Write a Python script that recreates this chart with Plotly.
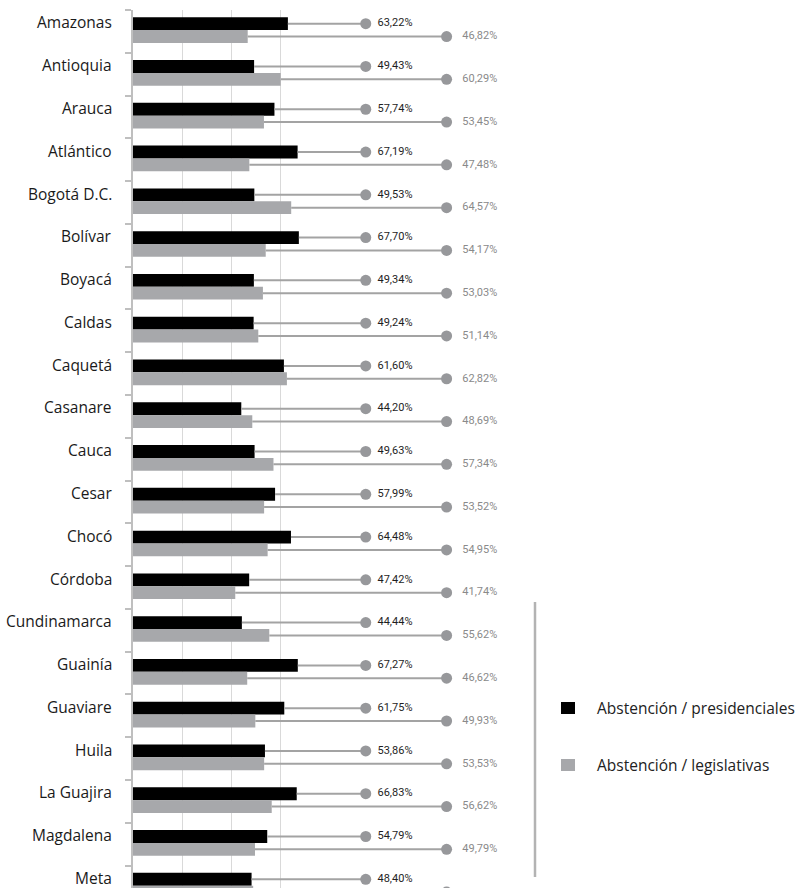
import plotly.graph_objects as go

departamentos = ["Amazonas", "Antioquia", "Arauca", "Atlántico", "Bogotá D.C.", "Bolívar",
                 "Boyacá", "Caldas", "Caquetá", "Casanare", "Cauca", "Cesar", "Chocó",
                 "Córdoba", "Cundinamarca", "Guainía", "Guaviare", "Huila", "La Guajira",
                 "Magdalena", "Meta"]
abst_presidenciales = [63.22, 49.43, 57.74, 67.19, 49.53, 67.70, 49.34, 49.24, 61.60, 44.20,
                       49.63, 57.99, 64.48, 47.42, 44.44, 67.27, 61.75, 53.86, 66.83, 54.79, 48.40]
abst_legislativas = [46.82, 60.29, 53.45, 47.48, 64.57, 54.17, 53.03, 51.14, 62.82, 48.69,
                     57.34, 53.52, 54.95, 41.74, 55.62, 46.62, 49.93, 53.53, 56.62, 49.79, 49.05]
grid_ticks = [20, 40, 60]

# layout constants
W, H = 803, 888
ML, MT = 133, 10
PX_PER_UNIT = 2.45
DOT_X_PRES = 95
DOT_X_LEG = 128
TEXT_GAP_PRES = 4.8   # data units between dot centre and label anchor
TEXT_GAP_LEG = 6.4
OFF_PRES = -0.18
OFF_LEG = 0.12
BAR_W = 0.30
plot_w = W - ML
plot_h = H - MT
unit_px = 42.78
y_bottom = -0.5 + plot_h / unit_px

BLACK = "#000000"
GRAY = "#a7a8ab"
DOT = "#97989b"
LINE = "#a3a3a3"

idx = list(range(len(departamentos)))
fmt = lambda v: f"{v:.2f}".replace(".", ",") + "%"

fig = go.Figure()
fig.add_trace(go.Bar(x=abst_presidenciales, y=idx, orientation="h", width=BAR_W,
                     offset=OFF_PRES - BAR_W / 2, marker=dict(color=BLACK, line_width=0),
                     name="Abstención / presidenciales"))
fig.add_trace(go.Bar(x=abst_legislativas, y=idx, orientation="h", width=BAR_W,
                     offset=OFF_LEG - BAR_W / 2, marker=dict(color=GRAY, line_width=0),
                     name="Abstención / legislativas"))


def lollipop(values, dot_x, gap, off, txtcolor):
    lx, ly = [], []
    for i, v in zip(idx, values):
        lx += [v, dot_x, None]
        ly += [i + off, i + off, None]
    fig.add_trace(go.Scatter(x=lx, y=ly, mode="lines", line=dict(color=LINE, width=2),
                             hoverinfo="skip"))
    ys = [i + off for i in idx]
    fig.add_trace(go.Scatter(x=[dot_x] * len(values), y=ys, mode="markers",
                             marker=dict(size=11, color=DOT)))
    # only labels whose row lies inside the visible plot area
    texts = [fmt(v) if (y + 0.1) < y_bottom else "" for v, y in zip(values, ys)]
    fig.add_trace(go.Scatter(x=[dot_x + gap] * len(values), y=ys, mode="text",
                             text=texts, textposition="middle right",
                             textfont=dict(family="Liberation Sans Narrow, Arial Narrow, Roboto",
                                           size=11, color=txtcolor)))


lollipop(abst_presidenciales, DOT_X_PRES, TEXT_GAP_PRES, OFF_PRES, "#1e1e1e")
lollipop(abst_legislativas, DOT_X_LEG, TEXT_GAP_LEG, OFF_LEG, "#8a8a8a")

for i, name in zip(idx, departamentos):
    fig.add_annotation(x=0, y=i - 0.21, xref="x", yref="y", text=name, showarrow=False,
                       xanchor="right", yanchor="middle", xshift=-19,
                       font=dict(family="Open Sans", size=15.5, color="#1a1a1a"))


def px_to_paper(px, py):
    return (px - ML) / plot_w, 1 - (py - MT) / plot_h


# manual legend
x0, y0 = px_to_paper(535, 602)
x1, y1 = px_to_paper(535, 877)
fig.add_shape(type="line", xref="paper", yref="paper", x0=x0, y0=y0, x1=x1, y1=y1,
              line=dict(color="#b3b3b3", width=2.5))
for (label, color, cy) in [("Abstención / presidenciales", BLACK, 708),
                           ("Abstención / legislativas", GRAY, 765)]:
    a0, b0 = px_to_paper(561, cy - 6)
    a1, b1 = px_to_paper(575, cy + 6)
    fig.add_shape(type="rect", xref="paper", yref="paper", x0=a0, y0=b1, x1=a1, y1=b0,
                  fillcolor=color, line_width=0)
    tx, ty = px_to_paper(595, cy)
    fig.add_annotation(x=tx, y=ty, xref="paper", yref="paper", text=label, showarrow=False,
                       xanchor="left", yanchor="middle",
                       font=dict(family="Open Sans", size=15.5, color="#222222"))

fig.update_layout(
    width=W, height=H, margin=dict(l=ML, r=0, t=MT, b=0),
    plot_bgcolor="white", paper_bgcolor="white", showlegend=False, barmode="overlay",
    xaxis=dict(range=[0, plot_w / PX_PER_UNIT], tickvals=grid_ticks, showgrid=True,
               gridcolor="#d9d9d9", gridwidth=1, showticklabels=False, zeroline=False,
               showline=False, ticks=""),
    yaxis=dict(range=[y_bottom, -0.5], tickvals=[i - 0.5 for i in idx],
               ticks="outside", ticklen=6, tickcolor="#bfbfbf", tickwidth=1.5,
               showticklabels=False, showline=True, linecolor="#bfbfbf", linewidth=1.5,
               showgrid=False, zeroline=False),
)

fig.write_html("out.html")
